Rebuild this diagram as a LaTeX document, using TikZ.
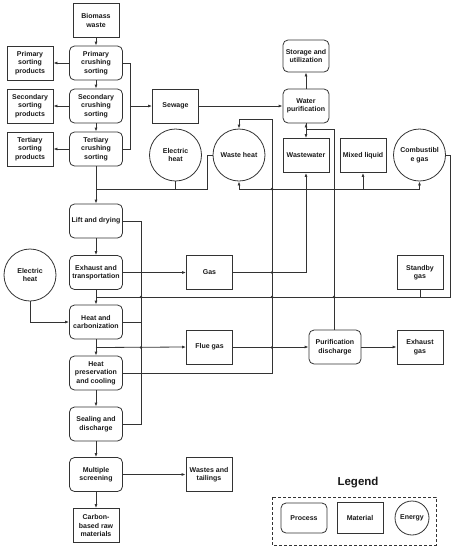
\documentclass[tikz,border=0pt]{standalone}
\usepackage{fontspec}
\setmainfont{Liberation Sans}
\usetikzlibrary{arrows.meta}
\begin{document}
\begin{tikzpicture}[x=1pt,y=-1pt,
  every node/.style={font=\bfseries\fontsize{7}{8.6}\selectfont, align=center, inner sep=0pt, text=black!90},
  mat/.style={draw=black!80, line width=0.8pt, minimum width=46pt, minimum height=34pt},
  proc/.style={draw=black!80, line width=0.8pt, rounded corners=5pt, minimum width=53pt, minimum height=34pt},
  energy/.style={draw=black!80, line width=0.8pt, circle, minimum size=52pt},
  ln/.style={draw=black!80, line width=0.8pt},
  arr/.style={ln, -{Latex[length=4pt,width=3pt]}},
  dot/.style={circle, fill=black!80, minimum size=2.6pt, inner sep=0pt}]
\useasboundingbox (0,0) rectangle (453,550);
% nodes
\node[mat]  (bio) at (96,20.5) {Biomass\\waste};
\node[proc] (p1)  at (96,63)  {Primary\\crushing\\sorting};
\node[proc] (p2)  at (96,106) {Secondary\\crushing\\sorting};
\node[proc] (p3)  at (96,149) {Tertiary\\crushing\\sorting};
\node[mat]  (s1)  at (30,63)  {Primary\\sorting\\products};
\node[mat]  (s2)  at (30,106) {Secondary\\sorting\\products};
\node[mat]  (s3)  at (30,149) {Tertiary\\sorting\\products};
\node[mat]  (sew) at (175.5,106) {Sewage};
\node[proc,minimum width=46pt] (wp) at (306,106) {Water\\purification};
\node[proc,minimum width=46pt,minimum height=32pt] (sto) at (306,56) {Storage and\\utilization};
\node[mat]  (ww)  at (306,155.5) {Wastewater};
\node[mat]  (ml)  at (363,155.5) {Mixed liquid};
\node[energy] (cg)  at (419.5,155) {Combustibl\\e gas};
\node[energy] (eh1) at (175.5,155) {Electric\\heat};
\node[energy] (wh)  at (239,155) {Waste heat};
\node[proc] (ld)  at (96,221) {Lift and drying};
\node[proc] (et)  at (96,272.5) {Exhaust and\\transportation};
\node[mat]  (gas) at (209.5,272.5) {Gas};
\node[mat]  (sg)  at (420,272.5) {Standby\\gas};
\node[energy] (eh2) at (30,275) {Electric\\heat};
\node[proc] (hc)  at (96,322) {Heat and\\carbonization};
\node[mat]  (fg)  at (209.5,347) {Flue gas};
\node[proc,minimum width=52pt] (pd) at (335,347) {Purification\\discharge};
\node[mat]  (eg)  at (420,347) {Exhaust\\gas};
\node[proc] (hp)  at (96,373) {Heat\\preservation\\and cooling};
\node[proc] (sd)  at (96,424) {Sealing and\\discharge};
\node[proc] (ms)  at (96,474.5) {Multiple\\screening};
\node[mat]  (wt)  at (209,474.5) {Wastes and\\tailings};
\node[mat]  (cb)  at (96,525.5) {Carbon-\\based raw\\materials};
% helper coordinates
\coordinate (k119) at (272,119);
\coordinate (k129) at (334,129);
\coordinate (k189) at (272,189);
\coordinate (kl189) at (96,189);
\coordinate (k297) at (96,297);
\coordinate (k347) at (96,347.5);
\coordinate (kv) at (141,221);
% sorting section
\draw[arr] (bio) -- (p1);
\draw[arr] (p1) -- (p2);
\draw[arr] (p2) -- (p3);
\draw[arr] (p1) -- (s1);
\draw[arr] (p2) -- (s2);
\draw[arr] (p3) -- (s3);
\draw[ln] (p1.east) -- ++(7,0) coordinate (c1) |- (p3.east);
\draw[arr] (c1 |- sew) -- (sew.west);
\draw[arr] (sew) -- (wp);
\draw[arr] (wp) -- (sto);
\draw[arr] (wp) -- (ww);
\draw[arr] (pd.north -| k129) -- (k129) -| (wp.south);
\draw[arr] (gas.east) -| (ww.south);
% heat recovery
\draw[arr] (hp.east) -| (k119) -| (wh.north);
\draw[arr] (k189) -| (wh.south);
\draw[arr] (k189) -| (ml.south);
\draw[arr] (k189) -| (cg.south);
\draw[ln] (wh.west) -- ++(-5,0) |- (kl189);
\draw[ln] (eh1.south) -- (eh1.south |- kl189);
\draw[arr] (p3) -- (ld);
% combustible gas loop
\draw[ln] (cg.east) -- ++(4,0) |- (k297);
\draw[ln] (sg.south) -- (sg.south |- k297);
% main process chain
\draw[arr] (ld) -- (et);
\draw[arr] (et) -- (hc);
\draw[arr] (et) -- (gas);
\draw[ln] (ld.east) -- (kv) |- (sd.east);
\draw[ln] (hc.east) -- (hc.east -| kv);
\draw[arr] (eh2.south) |- (hc.west);
\draw[arr] (hc) -- (hp);
\draw[arr] (k347) -- (fg.west);
\draw[arr] (fg) -- (pd);
\draw[arr] (pd) -- (eg);
\draw[arr] (hp) -- (sd);
\draw[arr] (sd) -- (ms);
\draw[arr] (ms) -- (wt);
\draw[arr] (ms) -- (cb);
% junction dots
\node[dot] (d1) at (141,297) {};
\node[dot] (d2) at (272,297) {};
\node[dot] (d3) at (334,297) {};
\node[dot] (d4) at (141,347.5) {};
\node[dot] (d5) at (272,347.5) {};
\node[dot] (d6) at (272,272.5) {};
\node[dot] (d7) at (272,189) {};
% legend
\node[font=\bfseries\fontsize{11.5}{13}\selectfont] (lt) at (358,483) {Legend};
\draw[ln, dashed, dash pattern=on 3pt off 2pt] (272,497) rectangle (436,545);
\node[proc,minimum width=46pt,minimum height=30pt] (lp) at (304,518) {Process};
\node[mat,minimum height=31pt] (lm) at (360,518) {Material};
\node[energy,minimum size=34pt] (le) at (412,518) {Energy};
\end{tikzpicture}
\end{document}
